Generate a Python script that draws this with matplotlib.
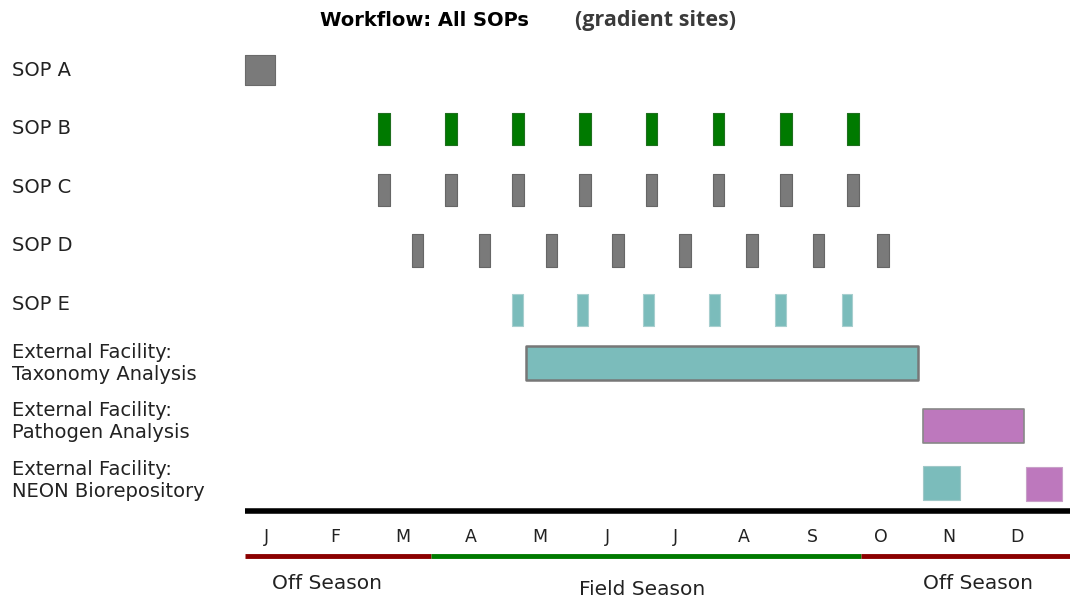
import matplotlib
matplotlib.use("Agg")
import matplotlib.pyplot as plt

# x in months from Jan 1 (0 = start of January), rows top to bottom
row_labels = ["SOP A", "SOP B", "SOP C", "SOP D", "SOP E",
              "External Facility:\nTaxonomy Analysis",
              "External Facility:\nPathogen Analysis",
              "External Facility:\nNEON Biorepository"]
months = ["J", "F", "M", "A", "M", "J", "J", "A", "S", "O", "N", "D"]

sop_a = [(0.18, 0.44)]
sop_b = [(2.14, 0.17), (3.12, 0.17), (4.10, 0.17), (5.08, 0.17),
         (6.06, 0.17), (7.04, 0.17), (8.03, 0.17), (9.01, 0.17)]
sop_c = [(2.14, 0.17), (3.12, 0.17), (4.10, 0.17), (5.08, 0.17),
         (6.06, 0.17), (7.04, 0.17), (8.03, 0.17), (9.01, 0.17)]
sop_d = [(2.63, 0.17), (3.61, 0.17), (4.59, 0.17), (5.57, 0.17),
         (6.55, 0.17), (7.53, 0.17), (8.51, 0.17), (9.45, 0.17)]
sop_e = [(4.10, 0.16), (5.05, 0.16), (6.02, 0.16), (6.99, 0.16),
         (7.95, 0.16), (8.93, 0.16)]
taxonomy = [(4.30, 5.75)]
pathogen = [(10.13, 1.48)]
biorepo_teal = [(10.13, 0.54)]
biorepo_purple = [(11.64, 0.52)]

seasons = ["Off Season", "Field Season", "Off Season"]
season_spans = [(0.18, 2.91), (2.91, 9.22), (9.22, 12.28)]

GRAY = "#7a7a7a"
GREEN = "#007a00"
TEAL = "#7bbcbb"
PURPLE = "#bd78bd"

fig = plt.figure(figsize=(10.70, 5.99), dpi=100)
ax = fig.add_axes([0, 0, 1, 1])
ax.set_xlim(-3.408, 12.28)
ax.set_ylim(9.027, -1.195)
ax.axis("off")

h = 0.55
ax.broken_barh(sop_a, (0 - 0.26, 0.52), facecolors=GRAY, edgecolors="#6a6a6a", lw=0.8)
ax.broken_barh(sop_b, (1 - h / 2, h), facecolors=GREEN, edgecolors="#1f6f1f", lw=0.8)
ax.broken_barh(sop_c, (2.05 - h / 2, h), facecolors=GRAY, edgecolors="#666666", lw=0.8)
ax.broken_barh(sop_d, (3.08 - h / 2, h), facecolors=GRAY, edgecolors="#666666", lw=0.8)
ax.broken_barh(sop_e, (4.1 - h / 2, h), facecolors=TEAL, edgecolors="#a8cfcf", lw=0.8)
ax.broken_barh(taxonomy, (5.0 - 0.29, 0.58), facecolors=TEAL, edgecolors="#777777", lw=1.8)
ax.broken_barh(pathogen, (6.08 - 0.29, 0.58), facecolors=PURPLE, edgecolors="#888888", lw=1.2)
ax.broken_barh(biorepo_teal, (7.05 - 0.29, 0.58), facecolors=TEAL, edgecolors="#a0c8c8", lw=0.8)
ax.broken_barh(biorepo_purple, (7.06 - 0.29, 0.58), facecolors=PURPLE, edgecolors="#c8a0c8", lw=0.8)

# row labels
for i, lab in enumerate(row_labels):
    ax.text(-3.23, i, lab, ha="left", va="center", fontsize=14,
            color="#222222", linespacing=1.2)

# time axis
ax.plot([0.18, 12.28], [7.526, 7.526], color="black", lw=4, solid_capstyle="butt")
for i, m in enumerate(months):
    ax.text(i + 0.5, 7.97, m, ha="center", va="center", fontsize=12.5, color="#222222")

season_colors = ["#8b0000", "#007a00", "#8b0000"]
for (s, e), c in zip(season_spans, season_colors):
    ax.plot([s, e], [8.29, 8.29], color=c, lw=3.5, solid_capstyle="butt")
season_y = [8.77, 8.87, 8.77]
season_x = [1.38, 6.0, 10.93]
for lab, sx, sy in zip(seasons, season_x, season_y):
    ax.text(sx, sy, lab, ha="center", va="center", fontsize=14.5, color="#222222")

# title
ax.text(2.82, -0.85, "Workflow: All SOPs", ha="center", va="center",
        fontsize=14, fontweight="bold", color="black")
ax.text(6.21, -0.85, "(gradient sites)", ha="center", va="center",
        fontsize=15.5, fontweight="bold", color="#3a3a3a", family="Open Sans")

fig.savefig("out.png", dpi=100)
